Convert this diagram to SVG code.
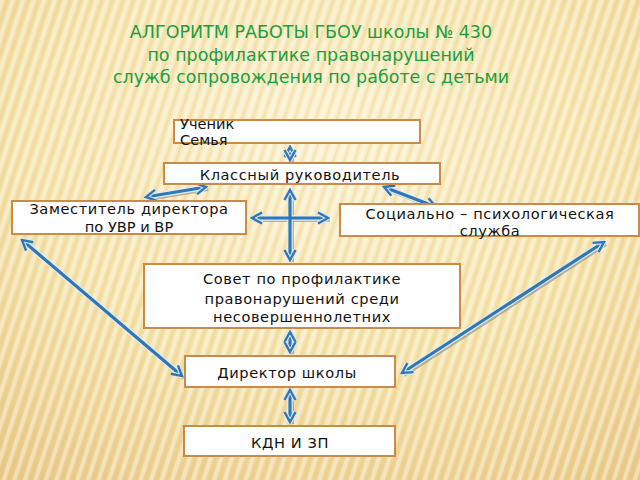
<svg xmlns="http://www.w3.org/2000/svg" width="640" height="480" viewBox="0 0 640 480">
  <defs>
    <radialGradient id="bg" cx="0.5" cy="0.3" r="0.85">
      <stop offset="0" stop-color="#fbf0cc"/>
      <stop offset="0.55" stop-color="#f5e2a8"/>
      <stop offset="1" stop-color="#e9c987"/>
    </radialGradient>
    <pattern id="stripes" width="10" height="10" patternUnits="userSpaceOnUse" patternTransform="rotate(18)">
      <rect x="0" y="0" width="4" height="10" fill="#ffffff" opacity="0.4"/>
      <rect x="6" y="0" width="2" height="10" fill="#d9b56a" opacity="0.18"/>
    </pattern>
    <marker id="ah" viewBox="0 0 14 14" refX="12" refY="7" markerWidth="14" markerHeight="14" markerUnits="userSpaceOnUse" orient="auto-start-reverse">
      <path d="M2,1.5 L12,7 L2,12.5" fill="none" stroke="#dfe7ee" stroke-width="4.5" stroke-linejoin="miter"/>
      <path d="M2,1.5 L12,7 L2,12.5" fill="none" stroke="#2f77b5" stroke-width="2.4"/>
    </marker>
    <style>
      .box { fill: #ffffff; stroke: #c98a4a; stroke-width: 2; }
      .t { font-family: "DejaVu Sans", "Noto Sans", sans-serif; font-size: 14.6px; fill: #111111; }
      .c { text-anchor: middle; }
      .title { font-family: "DejaVu Sans", "Noto Sans", sans-serif; font-size: 17.5px; fill: #1d9e3e; text-anchor: middle; }
      .sh { fill: none; stroke: #7d7d7d; stroke-width: 4; opacity: 0.55; }
      .ln { fill: none; stroke: #2f77b5; stroke-width: 3.2; marker-start: url(#ah); marker-end: url(#ah); }
      .hl { fill: none; stroke: #e3ecf3; stroke-width: 5.5; }
    </style>
  </defs>

  <rect width="640" height="480" fill="url(#bg)"/>
  <rect width="640" height="480" fill="url(#stripes)"/>

  <g id="title">
    <text class="title" x="311" y="38">АЛГОРИТМ РАБОТЫ ГБОУ школы № 430</text>
    <text class="title" x="311" y="61">по профилактике правонарушений</text>
    <text class="title" x="311" y="83">служб сопровождения по работе с детьми</text>
  </g>

  <g id="connectors">
    <g transform="translate(2,2)">
      <path class="sh" d="M290,147 V160"/>
      <path class="sh" d="M206,187 L146,197"/>
      <path class="sh" d="M384,187 L436,207"/>
      <path class="sh" d="M290,190 V260"/>
      <path class="sh" d="M252,218 H328"/>
      <path class="sh" d="M290,332 V352"/>
      <path class="sh" d="M290,390 V422"/>
      <path class="sh" d="M22,240 L182,376"/>
      <path class="sh" d="M604,242 L402,373"/>
    </g>
    <path class="hl" d="M290,147 V160"/>
    <path class="hl" d="M206,187 L146,197"/>
    <path class="hl" d="M384,187 L436,207"/>
    <path class="hl" d="M290,190 V260"/>
    <path class="hl" d="M252,218 H328"/>
    <path class="hl" d="M290,332 V352"/>
    <path class="hl" d="M290,390 V422"/>
    <path class="hl" d="M22,240 L182,376"/>
    <path class="hl" d="M604,242 L402,373"/>
    <path class="ln" d="M290,147 V160"/>
    <path class="ln" d="M206,187 L146,197"/>
    <path class="ln" d="M384,187 L436,207"/>
    <path class="ln" d="M290,190 V260"/>
    <path class="ln" d="M252,218 H328"/>
    <path class="ln" d="M290,332 V352"/>
    <path class="ln" d="M290,390 V422"/>
    <path class="ln" d="M22,240 L182,376"/>
    <path class="ln" d="M604,242 L402,373"/>
  </g>

  <g id="student">
    <rect class="box" x="174" y="120" width="246" height="23"/>
    <text class="t" x="180" y="129">Ученик</text>
    <text class="t" x="180" y="145">Семья</text>
  </g>

  <g id="class-teacher">
    <rect class="box" x="164" y="163" width="276" height="21"/>
    <text class="t c" x="300" y="180" letter-spacing="0.6">Классный руководитель</text>
  </g>

  <g id="deputy">
    <rect class="box" x="12" y="201" width="234" height="33"/>
    <text class="t c" x="129" y="214" letter-spacing="0.6">Заместитель директора</text>
    <text class="t c" x="129" y="232">по УВР и ВР</text>
  </g>

  <g id="social">
    <rect class="box" x="340" y="204" width="299" height="32"/>
    <text class="t c" x="490" y="219" letter-spacing="0.6">Социально – психологическая</text>
    <text class="t c" x="490" y="236" letter-spacing="0.6">служба</text>
  </g>

  <g id="council">
    <rect class="box" x="144" y="264" width="316" height="64"/>
    <text class="t c" x="302" y="284" letter-spacing="0.6">Совет по профилактике</text>
    <text class="t c" x="302" y="304" letter-spacing="0.6">правонарушений среди</text>
    <text class="t c" x="302" y="322" letter-spacing="0.6">несовершеннолетних</text>
  </g>

  <g id="director">
    <rect class="box" x="185" y="356" width="210" height="31"/>
    <text class="t c" x="287" y="378" letter-spacing="0.6">Директор школы</text>
  </g>

  <g id="kdn">
    <rect class="box" x="184" y="426" width="211" height="30"/>
    <text class="t c" x="290" y="448" letter-spacing="0.6">КДН И ЗП</text>
  </g>
</svg>
